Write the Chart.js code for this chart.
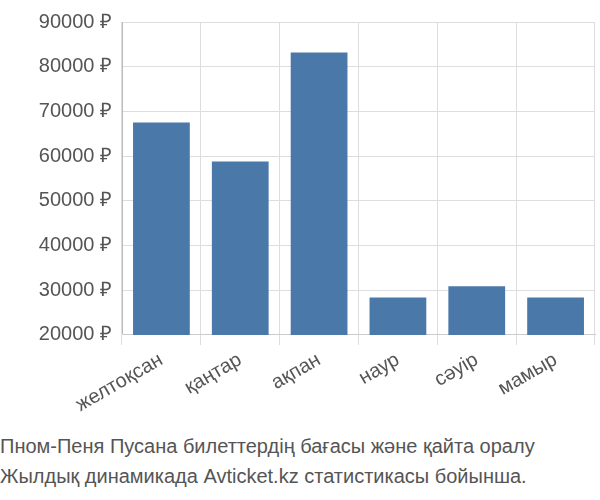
<!DOCTYPE html>
<html><head><meta charset="utf-8">
<script src="https://cdn.jsdelivr.net/npm/chart.js@4"></script>
<style>
body{margin:0;background:#fff;font-family:"Liberation Sans",Arial,sans-serif;}
#w{width:600px;height:420px;position:relative;}
#cap{position:absolute;left:0;top:431px;width:600px;font-size:20px;color:#555;line-height:30px;white-space:nowrap;}
</style></head><body>
<div id="w"><canvas id="c"></canvas></div>
<div id="cap">Пном-Пеня Пусана билеттердің бағасы және қайта оралу<br>Жылдық динамикада Avticket.kz статистикасы бойынша.</div>
<script>
const categories=["желтоқсан","қаңтар","ақпан","наур","сәуір","мамыр"];
const values=[67500,58800,83200,28400,30900,28400];
new Chart(document.getElementById('c'),{
type:'bar',
data:{labels:categories,datasets:[{data:values,backgroundColor:'#4a78a8',barPercentage:0.72,categoryPercentage:1}]},
options:{responsive:true,maintainAspectRatio:false,animation:false,
layout:{padding:{right:5,top:5,left:0}},
plugins:{legend:{display:false},tooltip:{enabled:false}},
scales:{
y:{min:20000,max:90000,afterFit:s=>{s.width=122;},ticks:{stepSize:10000,padding:10,color:'#555',font:{size:20,family:'Liberation Sans'},callback:v=>v+' ₽'},grid:{color:'#ddd',drawTicks:false},border:{color:'#bbb'}},
x:{offset:true,ticks:{color:'#555',maxRotation:30,minRotation:30,font:{size:20,family:'Liberation Sans'}},grid:{offset:true,color:'#ddd',tickLength:10},border:{color:'#ccc'}}
}}});
</script></body></html>
